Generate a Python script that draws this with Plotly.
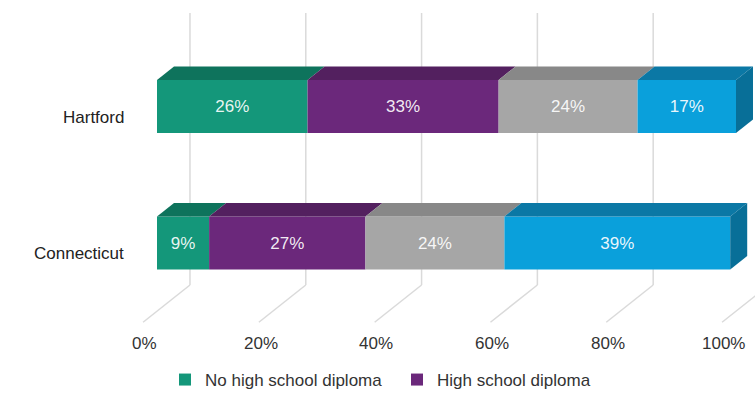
import plotly.graph_objects as go

# Educational attainment shares (%) by area
areas = ["Hartford", "Connecticut"]
series_names = ["No high school diploma", "High school diploma", "Some college", "Bachelor's degree or higher"]
hartford = [26, 33, 24, 17]
connecticut = [9, 27, 24, 39]
ticks = [0, 20, 40, 60, 80, 100]
tick_labels = ["0%", "20%", "40%", "60%", "80%", "100%"]

values_by_area = {"Hartford": hartford, "Connecticut": connecticut}
in_legend = [True, True, False, False]

front_colors = ["#14977a", "#6b287b", "#a6a6a6", "#0aa0db"]
top_colors = ["#0e735c", "#53205f", "#888888", "#0b78a5"]
side_color = "#086f98"

# ---- geometry of the pseudo-3D view (axis units) ----
W, H = 755, 398
PX_PER_PCT = 5.79
FRONT_ZERO_PX = 157
ROW_PX = 136.5
ROW0_PX = 243
x_range = [(0 - FRONT_ZERO_PX) / PX_PER_PCT, (W - FRONT_ZERO_PX) / PX_PER_PCT]
y_range = [(ROW0_PX - H) / ROW_PX, (ROW0_PX - 0) / ROW_PX]

def ypx(p):
    return (ROW0_PX - p) / ROW_PX

DX = 17 / PX_PER_PCT      # depth step along x
DY = 13.5 / ROW_PX        # depth step along y
BAR_W = 0.39
WALL_K = 1.94             # back wall depth (in depth steps)
FLOOR_K = -0.82           # front edge of the floor
WALL_TOP = ypx(13)
FLOOR_BACK = ypx(285)
FLOOR_FRONT = FLOOR_BACK + (FLOOR_K - WALL_K) * DY

row_pos = {"Hartford": 1, "Connecticut": 0}

fig = go.Figure()

# front faces of the stacked bars
for i, name in enumerate(series_names):
    xs, bases, ys, texts = [], [], [], []
    for area in areas:
        vals = values_by_area[area]
        xs.append(vals[i])
        bases.append(sum(vals[:i]))
        ys.append(row_pos[area])
        texts.append(f"{vals[i]}%")
    fig.add_trace(go.Bar(
        x=xs, base=bases, y=ys, orientation="h", width=BAR_W,
        name=name, showlegend=in_legend[i],
        marker=dict(color=front_colors[i], line=dict(width=0)),
        text=texts, textposition="inside", insidetextanchor="middle",
        textfont=dict(color="rgba(255,255,255,0.92)", size=17),
        hoverinfo="skip",
    ))

# top faces and right-hand side face
for area in areas:
    vals = values_by_area[area]
    yc = row_pos[area]
    yt, yb = yc + BAR_W / 2, yc - BAR_W / 2
    start = 0
    for i, v in enumerate(vals):
        x0, x1 = start, start + v
        fig.add_trace(go.Scatter(
            x=[x0, x1, x1 + DX, x0 + DX, x0],
            y=[yt, yt, yt + DY, yt + DY, yt],
            mode="lines", fill="toself", fillcolor=top_colors[i],
            line=dict(width=0), showlegend=False, hoverinfo="skip",
        ))
        start = x1
    fig.add_trace(go.Scatter(
        x=[start, start, start + DX, start + DX, start],
        y=[yb, yt, yt + DY, yb + DY, yb],
        mode="lines", fill="toself", fillcolor=side_color,
        line=dict(width=0), showlegend=False, hoverinfo="skip",
    ))

# gridlines: up the back wall, then across the floor
shapes = []
annotations = []
for t, lab in zip(ticks, tick_labels):
    xw = t + WALL_K * DX
    xf = t + FLOOR_K * DX
    shapes.append(dict(type="line", layer="below", xref="x", yref="y",
                       x0=xw, x1=xw, y0=WALL_TOP, y1=FLOOR_BACK,
                       line=dict(color="#dadada", width=1.5)))
    shapes.append(dict(type="line", layer="below", xref="x", yref="y",
                       x0=xw, x1=xf, y0=FLOOR_BACK, y1=FLOOR_FRONT,
                       line=dict(color="#dadada", width=1.5)))
    annotations.append(dict(x=xf + 0.3, y=ypx(343), xref="x", yref="y", text=lab,
                            showarrow=False, xanchor="center", yanchor="middle",
                            font=dict(size=17, color="#333333")))

for area in areas:
    annotations.append(dict(x=(126 - FRONT_ZERO_PX) / PX_PER_PCT, y=row_pos[area] - 0.08,
                            xref="x", yref="y", text=area, showarrow=False,
                            xanchor="right", yanchor="middle",
                            font=dict(size=17, color="#222222")))

fig.update_layout(
    width=W, height=H,
    margin=dict(l=0, r=0, t=0, b=0),
    paper_bgcolor="white", plot_bgcolor="white",
    barmode="overlay",
    font=dict(family="Liberation Sans, Arial, sans-serif", size=17, color="#333333"),
    xaxis=dict(range=x_range, visible=False, fixedrange=True),
    yaxis=dict(range=y_range, visible=False, fixedrange=True),
    shapes=shapes,
    annotations=annotations,
    showlegend=True,
    legend=dict(orientation="h", x=165 / W, y=0, xanchor="left", yanchor="bottom",
                font=dict(size=17, color="#333333"), bgcolor="rgba(0,0,0,0)",
                borderwidth=0, traceorder="normal",
                entrywidthmode="pixels", entrywidth=187),
)

fig.write_html("out.html")
